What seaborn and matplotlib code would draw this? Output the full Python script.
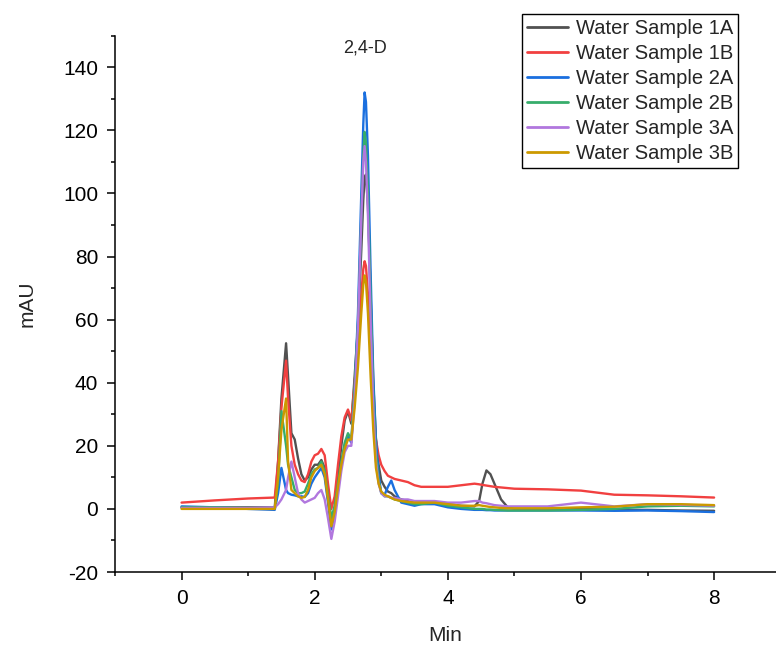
import numpy as np
import pandas as pd
import matplotlib
matplotlib.use("Agg")
import matplotlib.pyplot as plt
import seaborn as sns
from matplotlib.ticker import MultipleLocator

# Retention time grid (min)
time_min = [0.0, 0.5, 1.0, 1.4, 1.45, 1.5, 1.57, 1.6, 1.65, 1.7, 1.75, 1.8, 1.85, 1.9, 1.95,
            2.0, 2.05, 2.1, 2.15, 2.2, 2.25, 2.3, 2.35, 2.4, 2.45, 2.5, 2.55, 2.6, 2.65, 2.7,
            2.73, 2.75, 2.77, 2.8, 2.84, 2.88, 2.92, 2.96, 3.0, 3.05, 3.1, 3.15, 3.2, 3.3,
            3.4, 3.5, 3.6, 3.8, 4.0, 4.2, 4.4, 4.47, 4.52, 4.58, 4.64, 4.7, 4.8, 4.9, 5.0,
            5.5, 6.0, 6.5, 7.0, 7.5, 8.0]

sample_names = ["Water Sample 1A", "Water Sample 1B", "Water Sample 2A",
                "Water Sample 2B", "Water Sample 3A", "Water Sample 3B"]

ws_1a = [0.5, 0.5, 0.5, 0.5, 15, 35, 52.5, 42, 24, 22, 16, 11, 9, 10, 12.5,
         14, 14, 15.5, 13, 5, -4, 0, 10, 20, 28, 31, 27, 42, 58, 82,
         98, 105, 106, 96, 68, 40, 22, 14, 9, 7, 5.5, 5, 4, 3,
         2.5, 2, 2, 2, 1.5, 1, 0.8, 2.5, 8, 12.2, 11, 8, 3, 0.5, 0,
         -0.2, 0, -0.3, -0.3, -0.5, -0.6]

ws_1b = [2, 2.7, 3.3, 3.6, 15, 32, 47, 35, 20, 14, 11, 9, 8.5, 11, 15,
         17, 17.5, 19, 17, 8, 0, 4, 14, 23, 29, 31.5, 28, 40, 52, 68,
         76, 78.5, 77, 68, 50, 33, 22, 17, 14, 12, 10.5, 10, 9.5, 9,
         8.5, 7.5, 7, 7, 7, 7.5, 8, 7.8, 7.6, 7.4, 7.2, 7, 6.8, 6.6, 6.4,
         6.2, 5.8, 4.5, 4.3, 4.0, 3.6]

ws_2a = [0.8, 0.5, 0, -0.3, 5, 13, 6, 5, 4.5, 4.3, 4, 4, 3.8, 5, 8,
         10, 11.5, 13, 10, 2, -6.5, -2, 6, 14, 20, 23, 21, 38, 62, 100,
         122, 132, 129, 112, 75, 42, 22, 11, 5, 4.5, 7, 9, 6, 2,
         1.5, 1, 1.5, 1.5, 0.5, 0, -0.3, -0.3, -0.3, -0.4, -0.4, -0.5, -0.5, -0.5, -0.5,
         -0.5, -0.5, -0.6, -0.5, -0.7, -1]

ws_2b = [0.5, 0.5, 0.3, 0.3, 8, 31, 20, 14, 10, 6, 5, 5, 5.5, 8, 11,
         12.5, 13, 15, 12, 4, -3, 1, 8, 15, 21, 24, 22, 38, 58, 92,
         112, 119.5, 116, 100, 66, 36, 18, 9, 5, 4, 4, 3.5, 3, 2.5,
         2, 1.5, 1.5, 2, 1, 0.5, 0, 0, 0, -0.2, -0.2, -0.3, -0.4, -0.5, -0.5,
         -0.5, -0.3, 0, 0.8, 1, 0.8]

ws_3a = [0.3, 0.3, 0.3, 0.5, 1.5, 3, 6, 10, 15, 10, 5, 3, 2, 2.5, 3,
         3.5, 5, 6, 3, -3, -9.5, -4, 4, 12, 18, 20, 20, 35, 58, 92,
         110, 115, 110, 93, 60, 32, 15, 8, 5, 4, 4, 3.5, 3.5, 3,
         3, 2.5, 2.5, 2.5, 2, 2, 2.5, 2.5, 2, 1.8, 1.5, 1.2, 1, 0.8, 0.8,
         0.8, 2, 0.8, 1.5, 1.3, 1]

ws_3b = [0, 0, 0, 0, 10, 25, 35, 15, 6, 5, 4, 3.5, 3.8, 6, 10,
         12, 13, 14, 11, 3, -5.5, -1, 7, 14, 19, 22, 22, 32, 45, 62,
         71, 74, 72, 62, 42, 25, 13, 8, 5.5, 4.5, 4, 3.5, 3, 2.5,
         2.2, 2, 2, 2, 1.5, 1, 1, 1.2, 1, 0.8, 0.6, 0.5, 0.3, 0.2, 0.2,
         0.2, 0.5, 0.7, 1.5, 1.5, 1.2]

colors = ["#515151", "#F14040", "#1A6FDF", "#37AD6B", "#B177DE", "#CC9900"]

series = [ws_1a, ws_1b, ws_2a, ws_2b, ws_3a, ws_3b]
df = pd.concat([pd.DataFrame({"Min": time_min, "mAU": vals, "Sample": name})
                for name, vals in zip(sample_names, series)], ignore_index=True)

sns.set_theme(style="ticks")
plt.rcParams["font.family"] = ["Liberation Sans", "DejaVu Sans"]
plt.rcParams["axes.unicode_minus"] = False

fig = plt.figure(figsize=(7.76, 6.47), dpi=100)
ax = fig.add_axes([0.1482, 0.1159, 0.8518, 0.829])

sns.lineplot(data=df, x="Min", y="mAU", hue="Sample", palette=colors,
             estimator=None, sort=False, linewidth=1.7, ax=ax)

ax.set_xlim(-1, 8.93)
ax.set_ylim(-20, 150)
ax.xaxis.set_major_locator(MultipleLocator(2))
ax.xaxis.set_minor_locator(MultipleLocator(1))
ax.yaxis.set_major_locator(MultipleLocator(20))
ax.yaxis.set_minor_locator(MultipleLocator(10))
ax.set_xticks([0, 2, 4, 6, 8])
ax.tick_params(axis="both", which="major", direction="out", length=6, width=1.1,
               labelsize=15, color="black", labelcolor="black", pad=6)
ax.tick_params(axis="both", which="minor", direction="out", length=3, width=1.1,
               color="black")
for s in ["top", "right"]:
    ax.spines[s].set_visible(False)
for s in ["left", "bottom"]:
    ax.spines[s].set_linewidth(1.1)
    ax.spines[s].set_color("black")

ax.set_xlabel("Min", fontsize=15, labelpad=13)
ax.set_ylabel("mAU", fontsize=15, labelpad=19)

ax.text(2.75, 146, "2,4-D", ha="center", va="center", fontsize=13)

leg = ax.legend(loc="upper right", bbox_to_anchor=(0.9425, 1.040), fontsize=14.5,
                frameon=True, fancybox=False, edgecolor="black", framealpha=1,
                handlelength=2.0, handletextpad=0.4, labelspacing=0.3,
                borderpad=0.25, borderaxespad=0)
leg.get_frame().set_linewidth(1.0)
for line in leg.get_lines():
    line.set_linewidth(2)

fig.savefig("out.png", dpi=100)
